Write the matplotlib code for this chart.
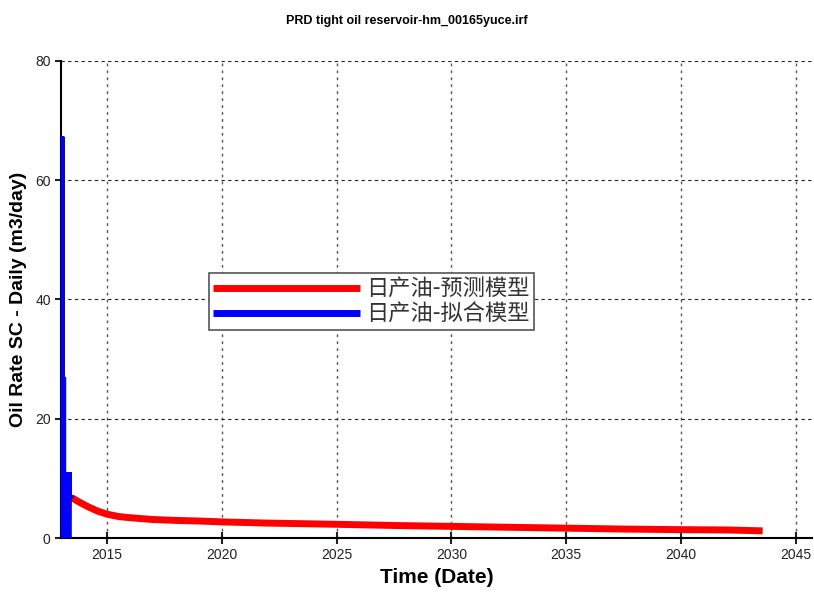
import matplotlib.pyplot as plt

# 拟合模型 (history match) - daily rate, dense spikes
fit_t = [2013.00, 2013.00, 2013.02, 2013.03, 2013.05, 2013.06, 2013.08, 2013.09,
         2013.10, 2013.11, 2013.12, 2013.13, 2013.14, 2013.15, 2013.16, 2013.17,
         2013.18, 2013.19, 2013.20, 2013.21, 2013.22, 2013.23, 2013.24, 2013.25,
         2013.26, 2013.27, 2013.28, 2013.29, 2013.30, 2013.31, 2013.32, 2013.33,
         2013.34, 2013.35, 2013.36, 2013.37, 2013.37, 2013.45]
fit_q = [0, 67.3, 0, 67.3, 0, 67.3, 0, 27.0,
         0, 27.0, 0, 27.0, 0, 11.0, 0, 11.0,
         0, 11.0, 0, 11.0, 0, 11.0, 0, 11.0,
         0, 11.0, 0, 11.0, 0, 11.0, 0, 11.0,
         0, 11.0, 0, 11.0, 7.2, 6.9]

# 预测模型 (forecast)
pred_t = [2013.45, 2013.8, 2014.2, 2014.6, 2015.0, 2015.5, 2016.0, 2017.0, 2018.0,
          2019.0, 2020.0, 2022.0, 2025.0, 2027.5, 2030.0, 2032.5, 2035.0,
          2037.5, 2040.0, 2042.0, 2043.55]
pred_q = [6.8, 6.0, 5.2, 4.5, 4.0, 3.6, 3.4, 3.1, 2.95,
          2.85, 2.7, 2.5, 2.3, 2.1, 1.95, 1.8, 1.65,
          1.5, 1.4, 1.35, 1.2]

xticks = [2015, 2020, 2025, 2030, 2035, 2040, 2045]
yticks = [0, 20, 40, 60, 80]

plt.rcParams['font.family'] = ['Liberation Sans', 'Noto Sans CJK SC', 'DejaVu Sans']

fig = plt.figure(figsize=(8.14, 5.92), dpi=100)
ax = fig.add_axes([0.075, 0.0912, 0.9226, 0.806])

ax.plot(pred_t, pred_q, color='#ff0000', lw=5, solid_capstyle='butt', label='日产油-预测模型', zorder=3)
ax.plot(fit_t, fit_q, color='#0000ff', lw=3, solid_joinstyle='miter', label='日产油-拟合模型', zorder=4)

ax.set_xlim(2013.0, 2045.7)
ax.set_ylim(0, 80)
ax.set_xticks(xticks)
ax.set_yticks(yticks)
ax.xaxis.grid(True, color='#555555', linestyle=(0, (2, 3)), linewidth=1.0)
ax.yaxis.grid(True, color='#222222', linestyle=(0, (3, 3)), linewidth=0.8)
ax.spines['top'].set_visible(False)
ax.spines['right'].set_visible(False)
ax.spines['left'].set_linewidth(1.5)
ax.spines['bottom'].set_linewidth(1.5)
ax.tick_params(axis='x', direction='inout', length=8, width=1.5, labelsize=10, colors='#222222')
ax.tick_params(axis='y', direction='out', length=4, width=1.5, labelsize=10, colors='#222222')

ax.set_xlabel('Time (Date)', fontsize=15, fontweight='bold', labelpad=4)
ax.set_ylabel('Oil Rate SC - Daily (m3/day)', fontsize=14, fontweight='bold', labelpad=6)
fig.suptitle('PRD tight oil reservoir-hm_00165yuce.irf', fontsize=9, fontweight='bold', y=0.975)

leg = ax.legend(loc='lower left', bbox_to_anchor=(0.197, 0.436), borderaxespad=0,
                handlelength=6.6, handletextpad=0.25, borderpad=0.2, labelspacing=0.1,
                fancybox=False, framealpha=1, edgecolor='#555555',
                prop={'family': ['Noto Sans CJK SC', 'DejaVu Sans'], 'size': 16})
leg.get_frame().set_linewidth(1.2)
for line in leg.get_lines():
    line.set_linewidth(5)
    line.set_solid_capstyle('butt')
for txt in leg.get_texts():
    txt.set_color('#333333')

fig.savefig('out.png', dpi=100)
